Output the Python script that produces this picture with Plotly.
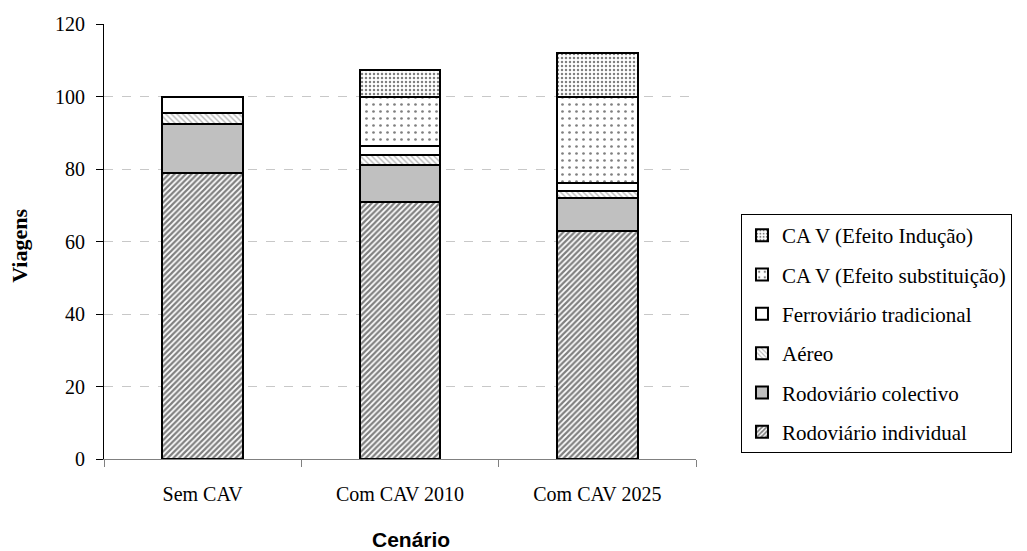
import plotly.graph_objects as go

# Cenários e viagens por modo (índice: Sem CAV = 100)
cenarios = ["Sem CAV", "Com CAV 2010", "Com CAV 2025"]
rod_individual = [79.0, 71.0, 63.0]
rod_colectivo = [13.5, 10.2, 8.9]
aereo = [3.0, 2.6, 2.1]
ferroviario = [4.5, 2.5, 2.2]
cav_substituicao = [0.0, 13.6, 23.8]
cav_inducao = [0.0, 7.5, 12.1]

y_ticks = [0, 20, 40, 60, 80, 100, 120]
grid_ticks = [20, 40, 60, 80, 100]

serif = "Liberation Serif"

series = [
    ("Rodoviário individual", rod_individual,
     dict(shape="/", fgcolor="#000000", bgcolor="#FFFFFF", size=4, solidity=0.55)),
    ("Rodoviário colectivo", rod_colectivo, None),
    ("Aéreo", aereo,
     dict(shape="\\", fgcolor="#6F6F6F", bgcolor="#FFFFFF", size=4, solidity=0.35)),
    ("Ferroviário tradicional", ferroviario, None),
    ("CA V (Efeito substituição)", cav_substituicao,
     dict(shape=".", fgcolor="#000000", bgcolor="#FFFFFF", size=7, solidity=0.12)),
    ("CA V (Efeito Indução)", cav_inducao,
     dict(shape=".", fgcolor="#000000", bgcolor="#FFFFFF", size=4, solidity=0.3)),
]
fills = {"Rodoviário colectivo": "#C0C0C0", "Ferroviário tradicional": "#FFFFFF"}

fig = go.Figure()
n = len(series)
for i, (name, vals, pat) in enumerate(series):
    marker = dict(line=dict(color="#000000", width=2))
    if pat is None:
        marker["color"] = fills[name]
    else:
        marker["color"] = "#FFFFFF"
        marker["pattern"] = pat
    fig.add_trace(go.Bar(
        x=cenarios, y=vals, name=name, marker=marker,
        legendgroup=f"g{i}", legendrank=n - i,
    ))

# dashed grid on a twin axis so that only 20..100 get lines
fig.add_trace(go.Scatter(x=cenarios, y=[None] * 3, yaxis="y2",
                         showlegend=False, hoverinfo="skip"))

fig.update_layout(
    barmode="stack",
    bargap=0.59,
    width=1027, height=551,
    margin=dict(l=104, r=331, t=24, b=92),
    paper_bgcolor="#FFFFFF",
    plot_bgcolor="#FFFFFF",
    font=dict(family=serif, size=20, color="#000000"),
    xaxis=dict(
        automargin=False,
        showline=True, linecolor="#808080", linewidth=1,
        ticks="outside", tickson="boundaries", ticklen=7, tickcolor="#808080",
        tickfont=dict(family=serif, size=20),
        ticklabelstandoff=17,
    ),
    yaxis=dict(
        automargin=False,
        range=[0, 120], tickvals=y_ticks,
        showline=True, linecolor="#000000", linewidth=1,
        ticks="outside", ticklen=7, tickcolor="#000000",
        showgrid=False, zeroline=False,
        tickfont=dict(family=serif, size=20),
        ticklabelstandoff=7,
    ),
    yaxis2=dict(
        automargin=False,
        overlaying="y", range=[0, 120], tickvals=grid_ticks,
        showticklabels=False, showgrid=True, gridcolor="#C8C8C8",
        griddash="dash", gridwidth=1, zeroline=False, layer="below traces",
    ),
    legend=dict(
        x=1.076, xanchor="left", y=0.563, yanchor="top",
        bordercolor="#000000", borderwidth=1, bgcolor="#FFFFFF",
        traceorder="grouped", tracegroupgap=9,
        font=dict(family=serif, size=21),
        itemwidth=30,
    ),
    showlegend=True,
    annotations=[
        dict(text="<b>Viagens</b>", xref="paper", yref="paper",
             x=-0.142, y=0.49, xanchor="center", yanchor="middle",
             textangle=-90, showarrow=False,
             font=dict(family=serif, size=22)),
        dict(text="<b>Cenário</b>", xref="paper", yref="paper",
             x=0.518, y=-0.184, xanchor="center", yanchor="middle",
             showarrow=False,
             font=dict(family="Liberation Sans", size=21)),
    ],
)

fig.write_html("out.html")
